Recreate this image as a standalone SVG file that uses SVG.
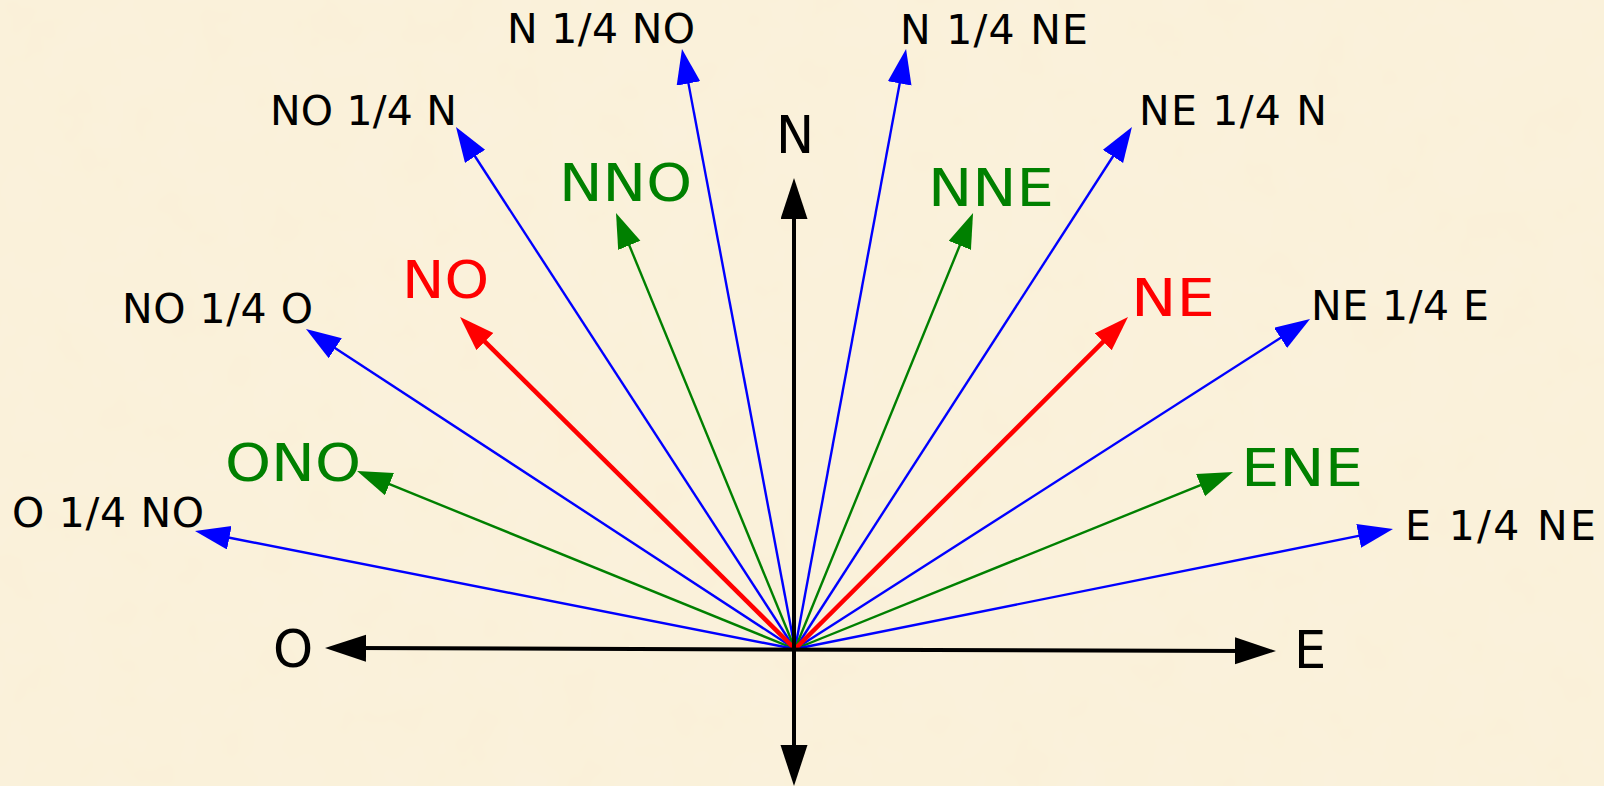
<svg xmlns="http://www.w3.org/2000/svg" width="1604" height="786" viewBox="0 0 1604 786">
<defs>
<filter id="paper" x="0" y="0" width="100%" height="100%">
<feTurbulence type="fractalNoise" baseFrequency="0.02" numOctaves="3" seed="4" result="n"/>
<feColorMatrix in="n" type="matrix" values="0 0 0 0 0.96  0 0 0 0 0.91  0 0 0 0 0.78  0 0 0 0.35 0"/>
</filter>
<marker id="hb" markerUnits="userSpaceOnUse" markerWidth="40" markerHeight="26" refX="10" refY="12" orient="auto"><path d="M0,0 L35,12 L0,24 z" fill="#0000FF"/></marker>
<marker id="hg" markerUnits="userSpaceOnUse" markerWidth="40" markerHeight="26" refX="10" refY="12" orient="auto"><path d="M0,0 L35,12 L0,24 z" fill="#008000"/></marker>
<marker id="hr" markerUnits="userSpaceOnUse" markerWidth="40" markerHeight="26" refX="10" refY="12" orient="auto"><path d="M0,0 L35,12 L0,24 z" fill="#FF0000"/></marker>
<marker id="hk" markerUnits="userSpaceOnUse" markerWidth="44" markerHeight="30" refX="11" refY="13.5" orient="auto-start-reverse"><path d="M0,0 L41,13.5 L0,27 z" fill="#000000"/></marker>
</defs>
<style>
.b{stroke:#0000FF;stroke-width:2.4;fill:none;marker-end:url(#hb)}
.g{stroke:#008000;stroke-width:2.4;fill:none;marker-end:url(#hg)}
.r{stroke:#FF0000;stroke-width:4.5;fill:none;marker-end:url(#hr)}
.k{stroke:#000000;stroke-width:4;fill:none;marker-start:url(#hk);marker-end:url(#hk)}
text{font-family:"DejaVu Sans","Open Sans",sans-serif}
.s{font-size:41px;fill:#000}
.L{font-size:51px}
.tk{fill:#000}.tg{fill:#008000}.tr{fill:#FF0000}
</style>
<rect width="1604" height="786" fill="#FAF0D8"/>
<rect width="1604" height="786" filter="url(#paper)"/>
<g id="connectors">
<line class="b" x1="795" y1="649" x2="686.6" y2="73.6"/>
<line class="b" x1="795" y1="649" x2="901.5" y2="73.6"/>
<line class="b" x1="795" y1="649" x2="469.6" y2="148"/>
<line class="b" x1="795" y1="649" x2="1118.4" y2="148"/>
<line class="g" x1="795" y1="649" x2="625.5" y2="236.1"/>
<line class="g" x1="795" y1="649" x2="963.6" y2="236.1"/>
<line class="b" x1="795" y1="649" x2="326.9" y2="342.7"/>
<line class="b" x1="795" y1="649" x2="1289" y2="332.5"/>
<line class="g" x1="795" y1="649" x2="380.2" y2="480.4"/>
<line class="g" x1="795" y1="649" x2="1209.8" y2="481.4"/>
<line class="b" x1="795" y1="649" x2="219.5" y2="535.8"/>
<line class="b" x1="795" y1="649" x2="1368.5" y2="533.9"/>
<line class="r" x1="795" y1="649" x2="477.8" y2="334.6"/>
<line class="r" x1="795" y1="649" x2="1110.3" y2="334.7"/>
<line class="k" x1="794" y1="756" x2="794" y2="208"/>
<line class="k" x1="355" y1="648.1" x2="1246" y2="650.9"/>
</g>
<g id="n-N"><text class="L tk" x="776" y="153">N</text></g>
<g id="n-O"><text class="L tk" x="273" y="667">O</text></g>
<g id="n-E"><text class="L tk" x="1294" y="668">E</text></g>
<g id="n-NNO"><text class="L tg" x="559" y="201" textLength="133" lengthAdjust="spacingAndGlyphs">NNO</text></g>
<g id="n-NNE"><text class="L tg" x="928" y="206" textLength="126" lengthAdjust="spacingAndGlyphs">NNE</text></g>
<g id="n-NO"><text class="L tr" x="402" y="298" textLength="87" lengthAdjust="spacingAndGlyphs">NO</text></g>
<g id="n-NE"><text class="L tr" x="1131" y="316" textLength="84" lengthAdjust="spacingAndGlyphs">NE</text></g>
<g id="n-ONO"><text class="L tg" x="225" y="481" textLength="136" lengthAdjust="spacingAndGlyphs">ONO</text></g>
<g id="n-ENE"><text class="L tg" x="1241" y="486" textLength="122" lengthAdjust="spacingAndGlyphs">ENE</text></g>
<g id="n-N14NO"><text class="s" x="507" y="43" textLength="188" lengthAdjust="spacing">N 1/4 NO</text></g>
<g id="n-N14NE"><text class="s" x="900" y="44" textLength="188" lengthAdjust="spacing">N 1/4 NE</text></g>
<g id="n-NO14N"><text class="s" x="270" y="125" textLength="187" lengthAdjust="spacing">NO 1/4 N</text></g>
<g id="n-NE14N"><text class="s" x="1139" y="125" textLength="188" lengthAdjust="spacing">NE 1/4 N</text></g>
<g id="n-NO14O"><text class="s" x="122" y="323" textLength="191" lengthAdjust="spacing">NO 1/4 O</text></g>
<g id="n-NE14E"><text class="s" x="1311" y="320" textLength="178" lengthAdjust="spacing">NE 1/4 E</text></g>
<g id="n-O14NO"><text class="s" x="12" y="527" textLength="192" lengthAdjust="spacing">O 1/4 NO</text></g>
<g id="n-E14NE"><text class="s" x="1405" y="540" textLength="191" lengthAdjust="spacing">E 1/4 NE</text></g>
</svg>
